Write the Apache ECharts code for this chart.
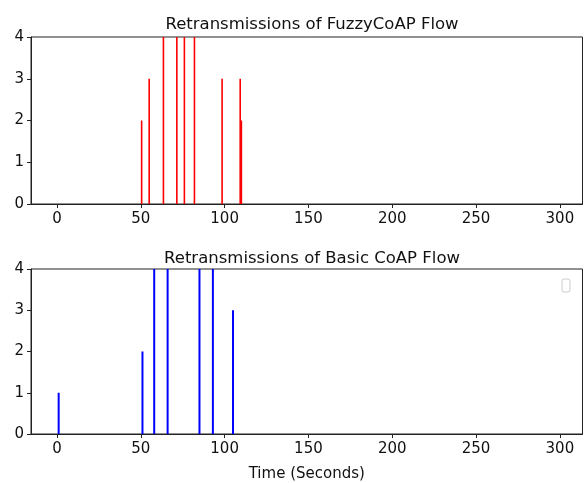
<!DOCTYPE html>
<html>
<head>
<meta charset="utf-8">
<script src="https://cdn.jsdelivr.net/npm/echarts@6/dist/echarts.min.js"></script>
<style>html,body{margin:0;padding:0;background:#fff}#c{width:585px;height:483px}</style>
</head>
<body>
<div id="c"></div>
<script>
// Data
const fuzzyTimes = [50.5, 55, 63.5, 71.5, 76, 82, 98.5, 109.3, 110];
const fuzzyRetx  = [2, 3, 4, 4, 4, 4, 3, 3, 2];
const basicTimes = [1, 51, 58, 66, 85, 93, 105];
const basicRetx  = [1, 2, 4, 4, 4, 4, 3];
const xTicks = [0, 50, 100, 150, 200, 250, 300];
const yTicks = [0, 1, 2, 3, 4];
const titles = ['Retransmissions of FuzzyCoAP Flow', 'Retransmissions of Basic CoAP Flow'];
const xLabel = 'Time (Seconds)';

const FONT = 'DejaVu Sans';
const chart = echarts.init(document.getElementById('c'), null, {renderer: 'canvas'});

function pairs(xs, ys) { return xs.map((x, i) => [x, ys[i]]); }

const grids = [
  {left: 31, right: 2.5, top: 37, height: 167, show: true, borderColor: '#222', borderWidth: 1, backgroundColor: 'transparent'},
  {left: 31, right: 2.5, top: 269, height: 167, show: true, borderColor: '#222', borderWidth: 1, backgroundColor: 'transparent'}
];

function xAxis(i) {
  return {
    type: 'value', gridIndex: i, min: -15.5, max: 313.5,
    name: i === 1 ? xLabel : '', nameLocation: 'middle', nameGap: 33,
    nameTextStyle: {fontFamily: FONT, fontSize: 15, color: '#111'},
    axisLine: {show: true, onZero: false, lineStyle: {color: '#222', width: 1}},
    axisTick: {show: true, length: 4, customValues: xTicks, lineStyle: {color: '#222'}},
    axisLabel: {customValues: xTicks, fontFamily: FONT, fontSize: 15, color: '#111', margin: 8},
    splitLine: {show: false}
  };
}
function yAxis(i) {
  return {
    type: 'value', gridIndex: i, min: 0, max: 4, interval: 1,
    axisLine: {show: true, onZero: false, lineStyle: {color: '#222', width: 1}},
    axisTick: {show: true, length: 4, customValues: yTicks, lineStyle: {color: '#222'}},
    axisLabel: {customValues: yTicks, fontFamily: FONT, fontSize: 15, color: '#111', margin: 7},
    splitLine: {show: false}
  };
}

chart.setOption({
  animation: false,
  backgroundColor: '#fff',
  title: [
    {text: titles[0], left: 307, top: 11, textAlign: 'center', textStyle: {fontFamily: FONT, fontSize: 16.5, fontWeight: 'normal', color: '#111'}},
    {text: titles[1], left: 307, top: 245, textAlign: 'center', textStyle: {fontFamily: FONT, fontSize: 16.5, fontWeight: 'normal', color: '#111'}}
  ],
  grid: grids,
  xAxis: [xAxis(0), xAxis(1)],
  yAxis: [yAxis(0), yAxis(1)],
  series: [
    {type: 'bar', xAxisIndex: 0, yAxisIndex: 0, data: pairs(fuzzyTimes, fuzzyRetx), barWidth: 1.6, itemStyle: {color: '#ff0000'}},
    {type: 'bar', xAxisIndex: 1, yAxisIndex: 1, data: pairs(basicTimes, basicRetx), barWidth: 2, itemStyle: {color: '#0000ff'}}
  ],
  graphic: [
    {type: 'rect', shape: {x: 562, y: 279, width: 8, height: 13, r: 2}, style: {fill: '#fff', stroke: '#cccccc', lineWidth: 1}}
  ]
});
</script>
</body>
</html>
